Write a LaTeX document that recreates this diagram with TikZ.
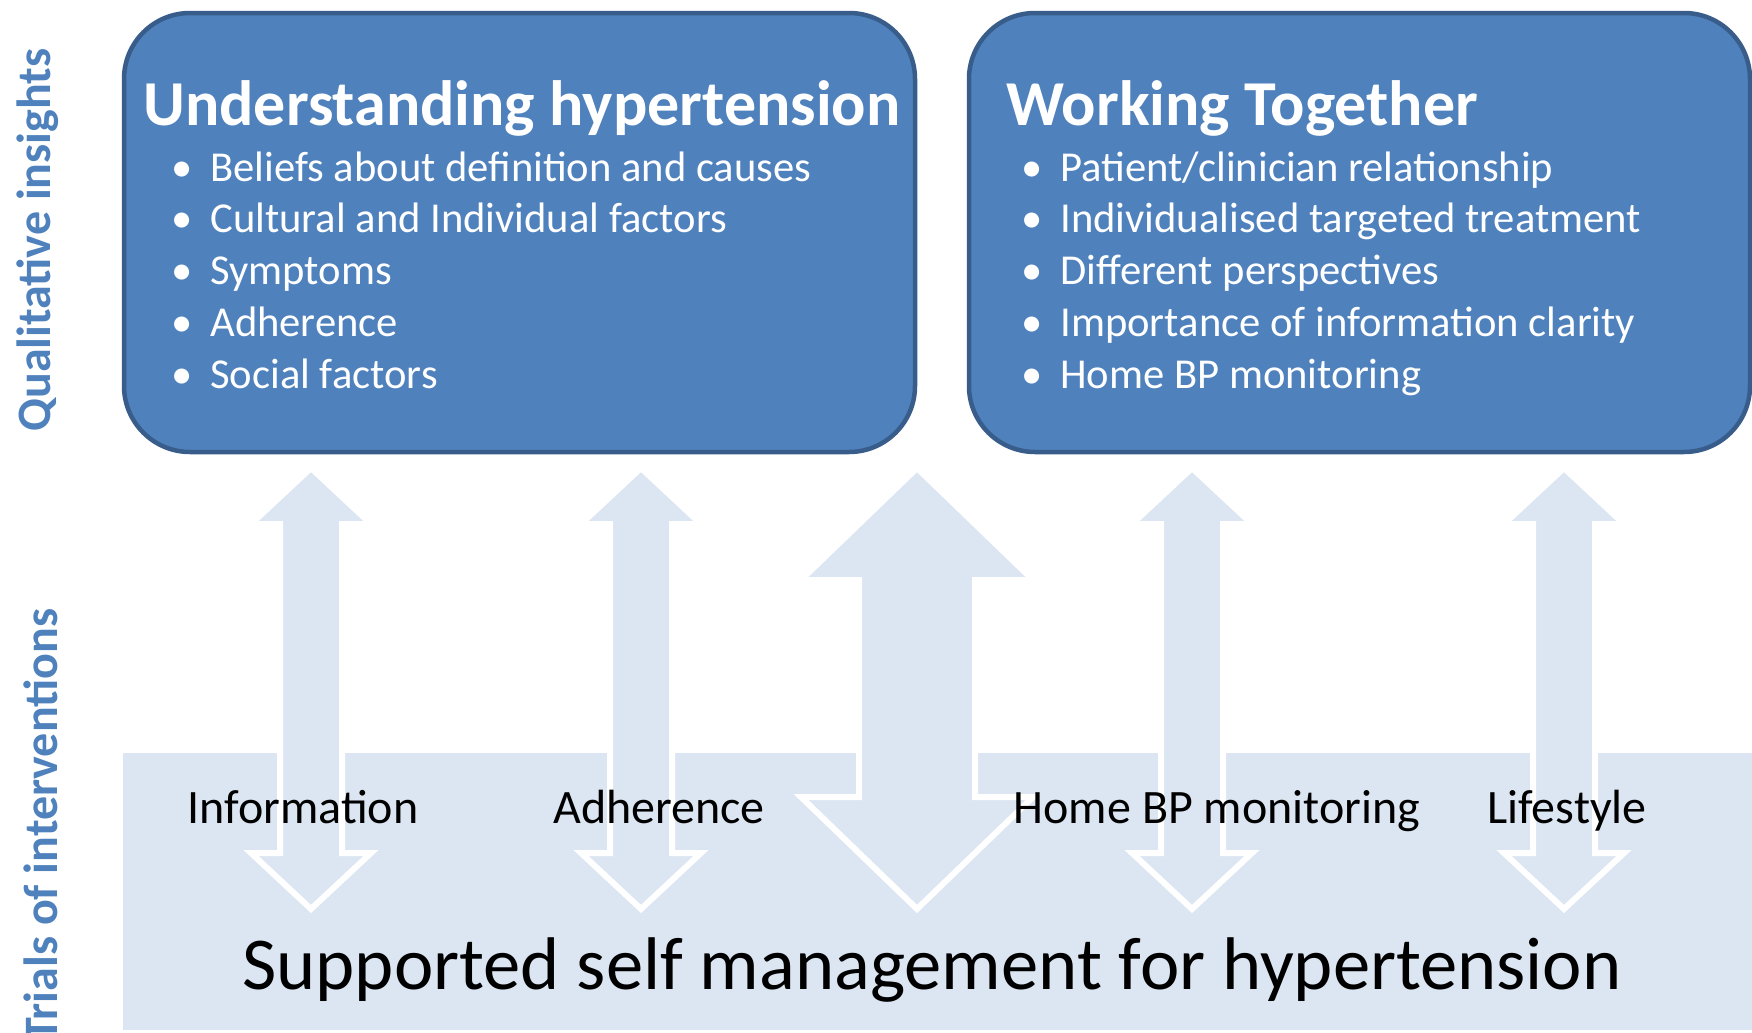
\documentclass[tikz,border=0pt]{standalone}
\usepackage{fontspec}
\setmainfont{Carlito}
\usepackage{tikz}
\usetikzlibrary{positioning}
\definecolor{boxblue}{RGB}{79,129,189}
\definecolor{boxedge}{RGB}{56,93,138}
\definecolor{paleblue}{RGB}{220,230,242}
\tikzset{
  themebox/.style={fill=boxblue,draw=boxedge,line width=2.25pt,rounded corners=33pt},
  band/.style={fill=paleblue},
  linkarrow/.style={fill=paleblue,draw=white,line width=3pt,line join=miter},
  sidelabel/.style={text=boxblue,font=\fontsize{24pt}{29pt}\selectfont\bfseries,inner sep=0pt,rotate=90,anchor=base west},
  heading/.style={text=white,font=\fontsize{32pt}{38pt}\selectfont\bfseries,inner sep=0pt,anchor=base west},
  point/.style={text=white,font=\fontsize{21.3pt}{25pt}\selectfont,inner sep=0pt,text height=15pt,text depth=10.5pt},
  tag/.style={font=\fontsize{24pt}{29pt}\selectfont,inner sep=0pt,anchor=base}
}
\newcommand{\bul}{\makebox[0pt]{\textbullet}\hspace{14pt}}
% up-down block arrow: centre x, half shaft, half head, head length
\newcommand{\twoway}[4]{%
  \draw[linkarrow] (#1,468) -- ({#1+#3},{468+#4}) -- ({#1+#2},{468+#4})
    -- ({#1+#2},{909-#4}) -- ({#1+#3},{909-#4}) -- (#1,909)
    -- ({#1-#3},{909-#4}) -- ({#1-#2},{909-#4}) -- ({#1-#2},{468+#4})
    -- ({#1-#3},{468+#4}) -- cycle;}

\begin{document}
\begin{tikzpicture}[x=0.5pt,y=-0.5pt]
  \useasboundingbox (0,0) rectangle (1752,1033);
  \clip (0,0) rectangle (1752,1033);
  \fill[white] (0,0) rectangle (1752,1033);

  % trials band and the arrows
  \fill[band] (123,753) rectangle (1770,1030);
  \twoway{311}{31}{60}{56}
  \twoway{641}{31}{60}{56}
  \twoway{917}{58}{116}{112}
  \twoway{1192}{31}{60}{56}
  \twoway{1564}{31}{60}{56}

  % qualitative boxes
  \draw[themebox] (124,13) rectangle (915,452);
  \draw[themebox] (969,13) rectangle (1750,452);

  \node[sidelabel] (qual) at (50,432) {Qualitative insights};
  \node[sidelabel] (trials) at (57,1042) {Trials of interventions};

  \node[heading] (underT) at (143,125) {Understanding hypertension};
  \node[point, anchor=base west] (u1) at (182,181) {\bul Beliefs about definition and causes};
  \node[point, below right=0pt of u1.south west] (u2) {\bul Cultural and Individual factors};
  \node[point, below right=0pt of u2.south west] (u3) {\bul Symptoms};
  \node[point, below right=0pt of u3.south west] (u4) {\bul Adherence};
  \node[point, below right=0pt of u4.south west] (u5) {\bul Social factors};

  \node[heading] (workT) at (1006,125) {Working Together};
  \node[point, anchor=base west] (w1) at (1032,181) {\bul Patient/clinician relationship};
  \node[point, below right=0pt of w1.south west] (w2) {\bul Individualised targeted treatment};
  \node[point, below right=0pt of w2.south west] (w3) {\bul Different perspectives};
  \node[point, below right=0pt of w3.south west] (w4) {\bul Importance of information clarity};
  \node[point, below right=0pt of w4.south west] (w5) {\bul Home BP monitoring};

  \node[tag] (info) at (303,823) {Information};
  \node[tag] (adh) at (659,823) {Adherence};
  \node[tag] (home) at (1217,823) {Home BP monitoring};
  \node[tag] (life) at (1567,823) {Lifestyle};
  \node[tag, font=\fontsize{37.3pt}{44pt}\selectfont] (ssm) at (932,989) {Supported self management for hypertension};
\end{tikzpicture}
\end{document}
